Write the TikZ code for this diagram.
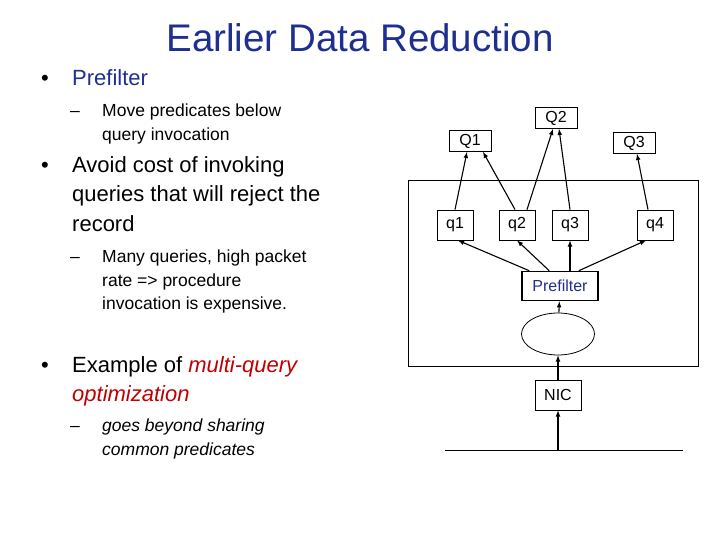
\documentclass[tikz,border=0pt]{standalone}
\usepackage{fontspec}
\setmainfont{Liberation Sans}
\usetikzlibrary{shapes.geometric}
\definecolor{navy}{HTML}{1F2F8F}
\begin{document}
\begin{tikzpicture}[x=1pt,y=-1pt,
 box/.style={draw,line width=0.8pt,minimum width=36pt,minimum height=30pt,inner sep=2pt,font=\fontsize{16}{16}\selectfont},
 bigbox/.style={box,minimum width=42pt,minimum height=21pt},
 ar/.style={-latex,line width=1.1pt},
 l1/.style={anchor=base west,inner sep=0,font=\fontsize{22}{22}\selectfont},
 l2/.style={anchor=base west,inner sep=0,font=\fontsize{17.5}{17.5}\selectfont}]
\useasboundingbox (0,0) rectangle (720,540);
\node[font=\fontsize{38.5}{38.5}\selectfont,text=navy] (title) at (360,38) {Earlier Data Reduction};
% text
\node[l1] (b1) at (41,86) {•};
\node[l1,text=navy] (t1) at (72,86) {Prefilter};
\node[l2] (d1) at (70,117) {–};
\node[l2] (t2) at (102,117) {Move predicates below};
\node[l2] (t3) at (102,141) {query invocation};
\node[l1] (b2) at (41,173) {•};
\node[l1] (t4) at (72,173) {Avoid cost of invoking};
\node[l1] (t5) at (72,202) {queries that will reject the};
\node[l1] (t6) at (72,231) {record};
\node[l2] (d2) at (70,262) {–};
\node[l2] (t7) at (102,262) {Many queries, high packet};
\node[l2] (t8) at (102,286) {rate => procedure};
\node[l2] (t9) at (102,309) {invocation is expensive.};
\node[l1] (b3) at (41,372) {•};
\node[l1] (t10) at (72,372) {Example of \textcolor{red!75!black}{\itshape multi-query}};
\node[l1,text=red!75!black,font=\fontsize{22}{22}\selectfont\itshape] (t11) at (72,401) {optimization};
\node[l2] (d3) at (70,431) {–};
\node[l2,font=\fontsize{17.5}{17.5}\selectfont\itshape] (t12) at (102,431) {goes beyond sharing};
\node[l2,font=\fontsize{17.5}{17.5}\selectfont\itshape] (t13) at (102,455) {common predicates};
% diagram
\node[draw,line width=0.8pt,minimum width=290pt,minimum height=186pt,inner sep=0] (frame) at (553,273) {};
\node[bigbox] (Q1) at (470,141) {Q1};
\node[bigbox] (Q2) at (556,118) {Q2};
\node[bigbox] (Q3) at (634,143) {Q3};
\node[box] (q1) at (455,225) {q1};
\node[box] (q2) at (517,225) {q2};
\node[box] (q3) at (570,225) {q3};
\node[box] (q4) at (655,225) {q4};
\node[draw,line width=1.6pt,minimum width=76pt,minimum height=29pt,text=navy,font=\fontsize{16}{16}\selectfont] (pf) at (560,286) {Prefilter};
\node[draw,ellipse,line width=0.8pt,minimum width=73pt,minimum height=42pt] (el) at (558,334) {};
\node[box,minimum width=46pt] (nic) at (558,395) {NIC};
\coordinate (lw) at (445,450);
\coordinate (le) at (683,450);
\coordinate (lm) at (558,450);
\draw[line width=0.8pt] (lw) -- (le);
\draw[ar] (lm) -- (nic);
\draw[ar] (nic) -- (el);
\draw[ar] (el) -- (pf);
\draw[ar] ([xshift=8pt]pf.north west) -- ([xshift=3pt]q1.south);
\draw[ar] ([xshift=28pt]pf.north west) -- (q2.south);
\draw[ar] (pf.north -| q3) -- (q3.south);
\draw[ar] ([xshift=-20pt]pf.north east) -- ([xshift=-9pt]q4.south);
\draw[ar] (q1.north) -- ([xshift=-3pt]Q1.south);
\draw[ar] ([xshift=-2pt]q2.north) -- ([xshift=13pt]Q1.south);
\draw[ar] ([xshift=10pt]q2.north) -- ([xshift=-3pt]Q2.south);
\draw[ar] (q3.north) -- ([xshift=3pt]Q2.south);
\draw[ar] ([xshift=-7pt]q4.north) -- ([xshift=3pt]Q3.south);
\end{tikzpicture}
\end{document}
